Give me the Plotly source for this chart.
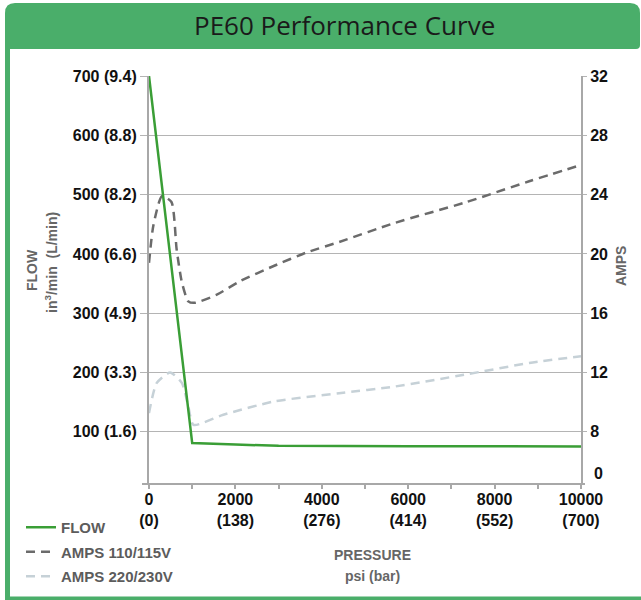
import plotly.graph_objects as go

# ---- data ----
flow_psi = [0, 1000, 2000, 3000, 6000, 8000, 10000]
flow_vals = [700, 81, 78.5, 76.5, 75.8, 75.5, 75.3]

amps110_psi = [0, 100, 300, 520, 640, 760, 910, 1060, 1570, 2100, 2900, 3650, 4400, 5700, 7300, 8800, 10000]
amps110_vals = [19.4, 21.9, 23.9, 23.5, 20.3, 18.1, 16.8, 16.7, 17.25, 18.15, 19.2, 20.1, 20.8, 22.1, 23.45, 24.9, 26.0]

amps220_psi = [0, 180, 490, 760, 910, 1030, 1720, 2900, 4400, 5700, 7300, 8800, 10000]
amps220_vals = [9.26, 11.3, 12.0, 11.3, 9.7, 8.47, 9.15, 10.05, 10.6, 11.06, 11.85, 12.64, 13.1]

x_ticks = [0, 1000, 2000, 3000, 4000, 5000, 6000, 7000, 8000, 9000, 10000]
x_ticktext = ["0<br>(0)", "", "2000<br>(138)", "", "4000<br>(276)", "", "6000<br>(414)", "",
              "8000<br>(552)", "", "10000<br>(700)"]
flow_ticks = [100, 200, 300, 400, 500, 600, 700]
flow_ticktext = ["100 (1.6)", "200 (3.3)", "300 (4.9)", "400 (6.6)", "500 (8.2)", "600 (8.8)", "700 (9.4)"]
amps_ticks = [8, 12, 16, 20, 24, 28, 32]
flow_range = [12, 700]
amps_range = [4.48, 32]

W, H = 641, 600
GREEN = "#4aae6a"
GRID = "#b4b4b4"
AX = "#a8a8a8"
FAM = "Liberation Sans Narrow, Liberation Sans, Arial, sans-serif"
TICKFONT = dict(family=FAM, size=16, color="#111111", weight="bold")
LABFONT = dict(family=FAM, size=14, color="#666666", weight="bold")
LEGFONT = dict(family=FAM, size=15, color="#5c5c5c", weight="bold")

def px(x):
    return x / W

def py(y):
    return 1 - y / H

fig = go.Figure()
fig.add_trace(go.Scatter(x=flow_psi, y=flow_vals, name="FLOW", mode="lines", yaxis="y2",
                         legendgroup="a", line=dict(color="#3a9e36", width=2.5)))
fig.add_trace(go.Scatter(x=amps110_psi, y=amps110_vals, name="AMPS 110/115V", mode="lines", yaxis="y",
                         legendgroup="b",
                         line=dict(color="#6b6b6b", width=2.5, dash="9px,6px", shape="spline", smoothing=0.6)))
fig.add_trace(go.Scatter(x=amps220_psi, y=amps220_vals, name="AMPS 220/230V", mode="lines", yaxis="y",
                         legendgroup="c",
                         line=dict(color="#c6d1d7", width=2.5, dash="9px,6px", shape="spline", smoothing=0.6)))

ydom = [py(484), py(76)]
fig.update_layout(
    width=W, height=H, autosize=False,
    margin=dict(l=0, r=0, t=0, b=0, pad=0, autoexpand=False),
    paper_bgcolor="white", plot_bgcolor="white",
    xaxis=dict(domain=[px(149), px(581)], range=[0, 10000], tickvals=x_ticks, ticktext=x_ticktext,
               showgrid=False, zeroline=False, showline=False, ticks="outside", ticklen=4,
               tickcolor=AX, tickwidth=1.5, tickfont=TICKFONT, fixedrange=True, automargin=False,
               ticklabelstandoff=-3),
    yaxis=dict(domain=ydom, range=amps_range, side="right", tickvals=amps_ticks, showgrid=True,
               gridcolor=GRID, gridwidth=1.2, zeroline=False, showline=True, linecolor=AX, linewidth=2,
               ticks="outside", ticklen=4, tickcolor=GRID, tickfont=TICKFONT, automargin=False),
    yaxis2=dict(domain=ydom, range=flow_range, overlaying="y", side="left", anchor="x",
                tickvals=flow_ticks, ticktext=flow_ticktext, showgrid=False, zeroline=False,
                showline=True, linecolor=AX, linewidth=2, ticks="outside", ticklen=7,
                tickcolor=GRID, tickfont=TICKFONT, automargin=False),
    legend=dict(x=px(21), y=py(511), xanchor="left", yanchor="top", bgcolor="rgba(0,0,0,0)",
                font=LEGFONT, itemwidth=30, tracegroupgap=2, traceorder="grouped"),
    showlegend=True,
)

shapes = []
r = 10
x0, x1, y0, y1 = 5, 640, 3, 49
path = (f"M {x0},{-y1} L {x0},{-(y0 + r)} Q {x0},{-y0} {x0 + r},{-y0} L {x1 - r},{-y0} "
        f"Q {x1},{-y0} {x1},{-(y0 + r)} L {x1},{-(y1 - 4)} Q {x1},{-y1} {x1 - 4},{-y1} Z")
shapes.append(dict(type="path", xref="paper", yref="paper", xsizemode="pixel", ysizemode="pixel",
                   xanchor=0, yanchor=1, path=path, fillcolor=GREEN, line=dict(width=0), layer="below"))
shapes.append(dict(type="line", xref="paper", yref="paper", x0=px(7.5), x1=px(7.5), y0=py(40), y1=py(600),
                   line=dict(color=GREEN, width=5), layer="below"))
shapes.append(dict(type="line", xref="paper", yref="paper", x0=px(5), x1=px(641), y0=py(598.5), y1=py(598.5),
                   line=dict(color=GREEN, width=4), layer="below"))
shapes.append(dict(type="line", xref="paper", yref="paper", x0=px(142), x1=px(585), y0=py(484), y1=py(484),
                   line=dict(color=AX, width=2), layer="below"))
fig.update_layout(shapes=shapes)

def note(text, x, y, font, angle=0):
    return dict(text=text, x=px(x), y=py(y), xref="paper", yref="paper", xanchor="center",
                yanchor="middle", textangle=angle, showarrow=False, font=font)

ann = [
    note("PE60 Performance Curve", 344, 25, dict(family="Open Sans, Noto Sans, sans-serif", size=26, color="#1a1a1a")),
    note("FLOW", 32, 270, LABFONT, -90),
    note("in<sup>3</sup>/min  (L/min)", 51, 263, LABFONT, -90),
    note("AMPS", 621, 266, LABFONT, -90),
    note("0", 598, 473, TICKFONT),
    note("PRESSURE", 372, 555, LABFONT),
    note("psi (bar)", 372, 576, LABFONT),
]
fig.update_layout(annotations=ann)

fig.write_html("out.html", config={"displayModeBar": False},
               post_script="document.body.style.margin='0';document.body.style.overflow='hidden';")
